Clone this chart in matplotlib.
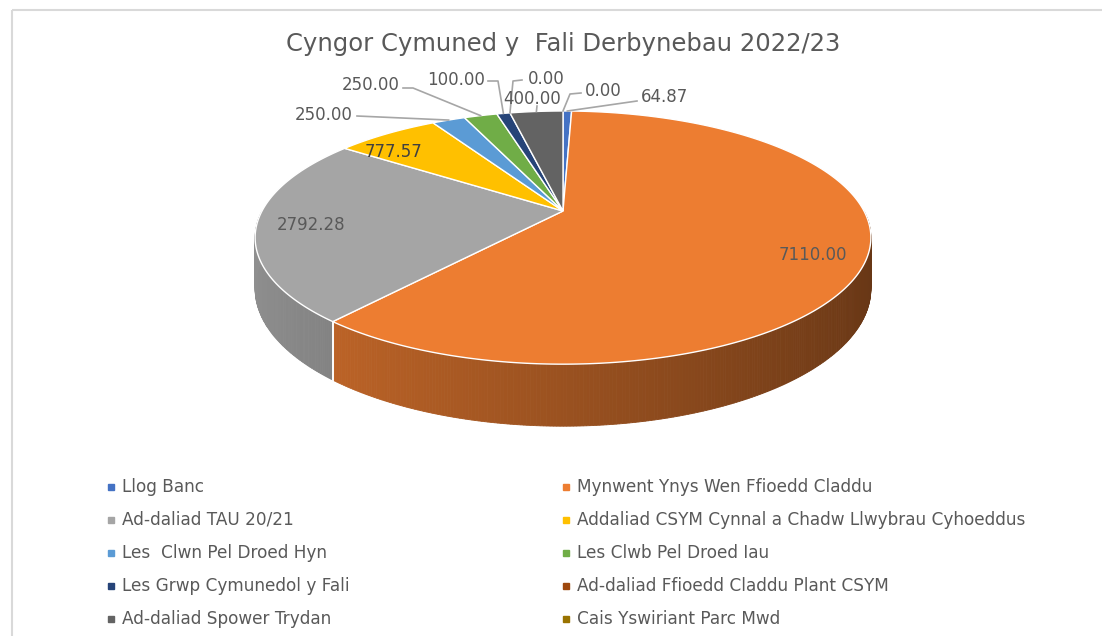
import numpy as np
import matplotlib.pyplot as plt
import matplotlib.colors as mcolors
from matplotlib.patches import Polygon, Rectangle

# data
labels = ['Llog Banc', 'Mynwent Ynys Wen Ffioedd Claddu', 'Ad-daliad TAU 20/21',
          'Addaliad CSYM Cynnal a Chadw Llwybrau Cyhoeddus', 'Les  Clwn Pel Droed Hyn',
          'Les Clwb Pel Droed Iau', 'Les Grwp Cymunedol y Fali',
          'Ad-daliad Ffioedd Claddu Plant CSYM', 'Ad-daliad Spower Trydan',
          'Cais Yswiriant Parc Mwd']
values = [64.87, 7110.00, 2792.28, 777.57, 250.00, 250.00, 100.00, 0.00, 400.00, 0.00]
colors = ['#4472C4', '#ED7D31', '#A5A5A5', '#FFC000', '#5B9BD5', '#70AD47',
          '#264478', '#9E480E', '#636363', '#997300']
title = 'Cyngor Cymuned y  Fali Derbynebau 2022/23'

# label layout (pixel positions of label text centres)
label_pos = [(664, 97), (813, 255), (311, 225), (393, 152), (324, 115),
             (371, 85), (456, 80), (546, 79), (532, 99), (603, 91)]
# leader lines: (elbow, end) or None
leaders = [[(637, 101)], None, None, None, [(357, 116)],
           [(413, 88), (403, 88)], [(498, 81), (488, 81)],
           [(513, 81), (522, 80)], [(537, 106)], [(570, 94), (581, 93)]]

txt_col = '#595959'
fig = plt.figure(figsize=(11.02, 6.36), dpi=100)
ax = fig.add_axes([0, 0, 1, 1])
ax.set_xlim(0, 1102)
ax.set_ylim(636, 0)
ax.axis('off')

ax.add_patch(Rectangle((12, 10), 1100, 640, fill=False, ec='#d9d9d9', lw=1.5))

# simple perspective of the pie disc
cx, cy = 563, 211
rx, ry, k = 301, 121, 0.21
depth = 49


def proj(ang, r=1.0, z=0.0):
    t = np.radians(ang)
    u = r * np.sin(t)
    v = -r * np.cos(t)
    w = 1 - k * v
    return cx + rx * u / w, cy + ry * v / w + z / w


vals = np.array(values)
ends = np.cumsum(vals) / vals.sum() * 360
starts = ends - vals / vals.sum() * 360

# side walls (front half only)
for a0, a1, c in zip(starts, ends, colors):
    lo, hi = max(a0, 90), min(a1, 270)
    if hi <= lo:
        continue
    angs = np.linspace(lo, hi, int((hi - lo) / 0.5) + 2)
    base = np.array(mcolors.to_rgb(c))
    for s0, s1 in zip(angs[:-1], angs[1:]):
        u = np.sin(np.radians((s0 + s1) / 2))
        f = 0.65 - 0.22 * u
        col = np.clip(base * f, 0, 1)
        x0, y0 = proj(s0)
        x1, y1 = proj(s1)
        x2, y2 = proj(s1, z=depth)
        x3, y3 = proj(s0, z=depth)
        ax.add_patch(Polygon([(x0, y0), (x1, y1), (x2, y2), (x3, y3)],
                             closed=True, fc=col, ec=col, lw=0.6))
    # white seam between slices on the wall
    for a in (a0, a1):
        if 90 < a < 270:
            xa, ya = proj(a)
            xb, yb = proj(a, z=depth)
            ax.plot([xa, xb], [ya, yb], color='white', lw=1.2)

# top faces
for a0, a1, c, v in zip(starts, ends, colors, values):
    if v <= 0:
        continue
    angs = np.linspace(a0, a1, int((a1 - a0) / 0.5) + 2)
    pts = [proj(0, r=0)] + [proj(a) for a in angs]
    ax.add_patch(Polygon(pts, closed=True, fc=c, ec='white', lw=1.0))

# data labels and leader lines
for i, (v, (tx, ty)) in enumerate(zip(values, label_pos)):
    ax.text(tx, ty, f'{v:.2f}', ha='center', va='center', fontsize=12,
            color='#404040' if i == 3 else txt_col, family='DejaVu Sans')
    if leaders[i] is None:
        continue
    mid = (starts[i] + ends[i]) / 2
    ax_, ay_ = proj(mid)
    xs = [ax_] + [p[0] for p in leaders[i]]
    ys = [ay_] + [p[1] for p in leaders[i]]
    ax.plot(xs, ys, color='#a6a6a6', lw=1.2)

ax.text(563, 44, title, ha='center', va='center', fontsize=17.5,
        color=txt_col, family='DejaVu Sans')

# legend, row-major in two columns
for i, (lab, c) in enumerate(zip(labels, colors)):
    col, row = i % 2, i // 2
    lx = 111 if col == 0 else 566
    ly = 487 + row * 33
    ax.plot(lx, ly, marker='s', ms=4.5, color=c, mec=c)
    ax.text(lx + 11, ly, lab, ha='left', va='center', fontsize=12.2,
            color=txt_col, family='DejaVu Sans')

fig.savefig('out.png', dpi=100, facecolor='white')
